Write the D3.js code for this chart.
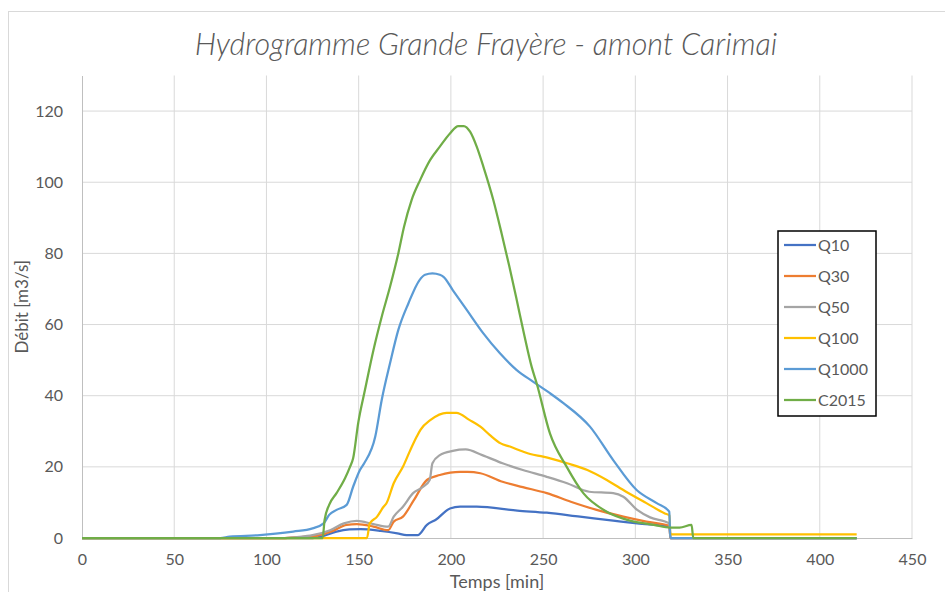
<!DOCTYPE html>
<html>
<head>
<meta charset="utf-8">
<script src="https://cdn.jsdelivr.net/npm/d3@7"></script>
<style>
  body { margin: 0; background: #fff; }
  svg text { font-family: Lato, "Open Sans", sans-serif; fill: #595959; }
</style>
</head>
<body>
<svg id="chart" width="945" height="592"></svg>
<script>
'use strict';

// series names + colours (Excel default palette)
const seriesNames = ["Q10", "Q30", "Q50", "Q100", "Q1000", "C2015"];
const seriesColors = ["#4472C4", "#ED7D31", "#A5A5A5", "#FFC000", "#5B9BD5", "#70AD47"];

// [temps (min), débit (m3/s)]
const q10 = [[0,0],[125,0],[131,0.6],[138,1.8],[145,2.4],[151,2.5],[162,2.0],[171,1.3],[176,0.8],[182,0.8],
  [187,3.7],[192,5.2],[199.5,8.3],[205,8.8],[214,8.8],[236,7.7],[252,7.1],[270,6.0],[288,4.9],[301,4.1],
  [318.5,3.2],[319,0],[420,0]];
const q30 = [[0,0],[110,0],[120,0.3],[127,0.6],[136,2.0],[143.5,3.7],[149,3.9],[158,3.2],[166,2.2],[169,4.6],
  [174,6.0],[180,10.7],[187,16.3],[194,17.7],[205,18.6],[209,18.6],[216,18.2],[228,15.8],[239,14.3],[252,12.6],
  [265,10.2],[279,7.9],[293.5,6.0],[306,4.6],[318.5,3.4],[319,0],[420,0]];
const q50 = [[0,0],[110,0],[118,0.3],[125,0.8],[134.5,2.2],[142,4.1],[149,4.8],[158,3.9],[166,3.2],[169,6.0],
  [174,8.8],[179.5,12.6],[185,14.4],[188.5,16.3],[190,21],[194,23.3],[201,24.5],[208,24.9],[217,23.3],[228,21],
  [239,19.1],[252,17.2],[263,15.4],[275,13],[288,12.6],[293.5,11.6],[301,7.9],[308,5.8],[318.5,4.1],[319,0],[420,0]];
const q100 = [[0,0],[154.5,0],[156,4.1],[160,6],[163.5,8.8],[165,9.7],[169,15.4],[174,20],[178,24.7],[181.5,28.5],
  [183.5,30.4],[189,33.2],[197.7,35.2],[203,35.2],[210,33.2],[216,31.3],[221,29],[227,26.6],[232,25.7],[239,24.3],
  [243,23.6],[250,22.9],[263,21],[274,19.1],[284.5,16.3],[295,13],[306,9.8],[316,6.9],[318.5,6.3],[319,1],[420,1]];
const q1000 = [[0,0],[75,0],[80,0.4],[96.5,0.8],[105,1.2],[114.5,1.8],[125,2.7],[131,4.1],[134,6.5],[138,7.9],
  [143.5,9.3],[147,14.4],[150.7,19.1],[153,21],[159,28.5],[162.5,38.8],[167,49.1],[171.5,58.5],[177,66],[183,72.5],
  [186,74],[190,74.4],[194,74],[196,73.4],[201,69.7],[208.6,64.1],[217.6,57.5],[226.6,51.9],[235.7,47.2],[244.7,43.9],
  [253.7,40.7],[261,37.9],[275.4,31.3],[288,21.9],[300.7,13.5],[311.6,9.8],[318.4,7.4],[319,0],[420,0]];
const c2015 = [[0,0],[130.5,0],[131.5,5],[134,9.3],[138,12.6],[142.6,16.8],[145.3,20],[147,22.4],[149.8,32.5],
  [153.4,41.6],[158,52.8],[162.5,62.2],[167,70.6],[171.5,80],[174.6,87.5],[178.7,95],[183.3,100.6],[188.7,106.2],
  [194,110],[199.5,113.7],[204,115.8],[207,115.8],[210.4,114.2],[214,110],[217.6,104.4],[223,95],[227.5,85.6],
  [231.7,76.3],[235.7,66.9],[239.6,57.5],[243.8,48.1],[246.5,43.5],[253.7,29.4],[262.8,20],[271.8,12.6],[284.5,7.4],
  [297,4.9],[310,3.7],[319,2.9],[324,2.9],[330.5,3.7],[331.4,0],[420,0]];

const seriesData = [q10, q30, q50, q100, q1000, c2015];

const xTicks = [0, 50, 100, 150, 200, 250, 300, 350, 400, 450];
const yTicks = [0, 20, 40, 60, 80, 100, 120];

const svg = d3.select("#chart");
const margin = { top: 75.5, right: 33, bottom: 54, left: 82 };
const width = 945, height = 592;

// outer chart border
svg.append("rect")
  .attr("x", 8.5).attr("y", 11.5)
  .attr("width", 1000).attr("height", 1000)
  .attr("fill", "none").attr("stroke", "#D9D9D9");

const x = d3.scaleLinear().domain([0, 450]).range([margin.left, width - margin.right]);
const y = d3.scaleLinear().domain([0, 130]).range([height - margin.bottom, margin.top]);

// gridlines
svg.append("g").selectAll("line.v")
  .data(xTicks.slice(1))
  .join("line")
  .attr("x1", d => x(d)).attr("x2", d => x(d))
  .attr("y1", y(130)).attr("y2", y(0))
  .attr("stroke", "#D9D9D9").attr("stroke-width", 1);

svg.append("g").selectAll("line.h")
  .data(yTicks.slice(1))
  .join("line")
  .attr("x1", x(0)).attr("x2", x(450))
  .attr("y1", d => y(d)).attr("y2", d => y(d))
  .attr("stroke", "#D9D9D9").attr("stroke-width", 1);

// axes
const xAxis = d3.axisBottom(x).tickValues(xTicks).tickSize(0).tickPadding(16);
const gx = svg.append("g")
  .attr("transform", "translate(0," + y(0) + ")")
  .call(xAxis);
gx.select(".domain").attr("stroke", "#BFBFBF");
gx.selectAll("text").style("font-size", "16px").attr("fill", "#595959");

const yAxis = d3.axisLeft(y).tickValues(yTicks).tickSize(0).tickPadding(19);
const gy = svg.append("g")
  .attr("transform", "translate(" + x(0) + ",0)")
  .call(yAxis);
gy.select(".domain").attr("stroke", "#BFBFBF");
gy.selectAll("text").style("font-size", "16px").attr("fill", "#595959");

// lines
const line = d3.line()
  .x(d => x(d[0]))
  .y(d => y(d[1]))
  .curve(d3.curveMonotoneX);

svg.append("g").selectAll("path")
  .data(seriesData)
  .join("path")
  .attr("fill", "none")
  .attr("stroke", (d, i) => seriesColors[i])
  .attr("stroke-width", 2.25)
  .attr("stroke-linejoin", "round")
  .attr("d", line);

// title + axis titles
svg.append("text")
  .attr("x", 486).attr("y", 55)
  .attr("text-anchor", "middle")
  .style("font-size", "30.5px").style("font-style", "italic").style("font-weight", 300)
  .text("Hydrogramme Grande Frayère - amont Carimai");

svg.append("text")
  .attr("transform", "translate(28," + (y(65)) + ") rotate(-90)")
  .attr("text-anchor", "middle")
  .style("font-size", "17px")
  .text("Débit [m3/s]");

svg.append("text")
  .attr("x", 497).attr("y", 588)
  .attr("text-anchor", "middle")
  .style("font-size", "18px")
  .text("Temps [min]");

// legend
const legend = svg.append("g").attr("transform", "translate(778,231)");
legend.append("rect")
  .attr("x", 0).attr("y", 0)
  .attr("width", 98).attr("height", 185)
  .attr("fill", "#fff").attr("stroke", "#000").attr("stroke-width", 1.5);

const item = legend.selectAll("g.item")
  .data(seriesNames)
  .join("g")
  .attr("class", "item")
  .attr("transform", (d, i) => "translate(0," + (14 + i * 31) + ")");
item.append("line")
  .attr("x1", 6).attr("x2", 38)
  .attr("stroke", (d, i) => seriesColors[i]).attr("stroke-width", 2.25);
item.append("text")
  .attr("x", 40).attr("dy", "0.35em")
  .style("font-size", "16px")
  .text(d => d);
</script>
</body>
</html>
